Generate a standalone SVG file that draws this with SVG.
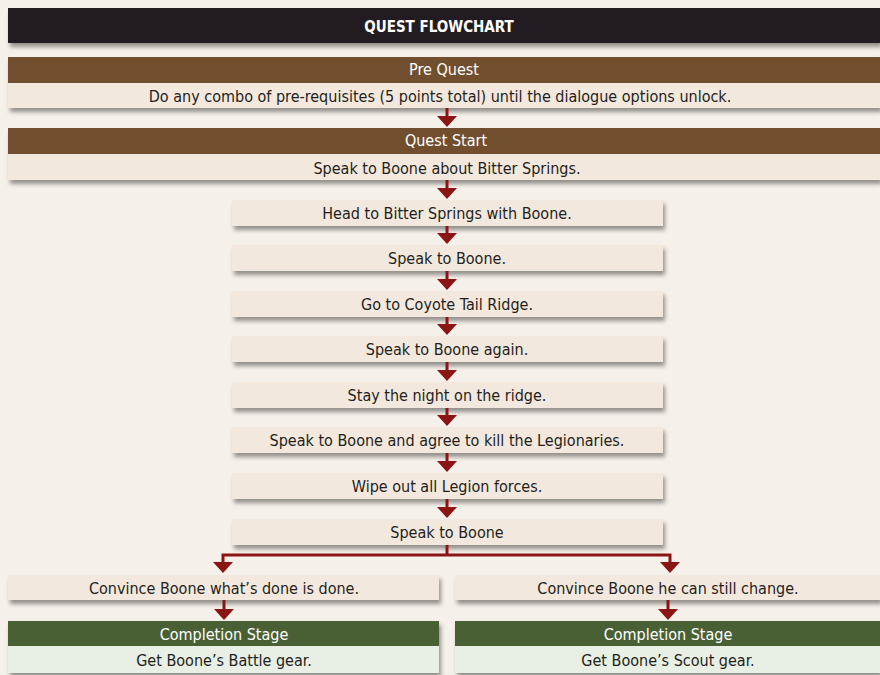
<svg xmlns="http://www.w3.org/2000/svg" width="880" height="675" viewBox="0 0 880 675">
<defs>
<filter id="sh" x="-5%" y="-30%" width="110%" height="180%">
<feDropShadow dx="2" dy="4" stdDeviation="2.2" flood-color="#000" flood-opacity="0.4"/>
</filter>
<style>
.t{font-family:"Liberation Sans Narrow","DejaVu Sans Condensed","Liberation Sans",sans-serif;font-size:16px;fill:#231f20;text-anchor:middle}
.w{fill:#ffffff}
.hd{font-weight:bold;font-size:15px}
.row{fill:#f3e8dd}
.brown{fill:#714f2f}
.green{fill:#4a6136}
.lg{fill:#e8efe4}
.ln{stroke:#8b1515;stroke-width:3;fill:none}
.ah{fill:#8b1515}
</style>
</defs>
<rect x="0" y="0" width="880" height="675" fill="#f6f0ea"/>
<g id="title">
<rect x="8" y="8" width="872" height="35" fill="#231f20" filter="url(#sh)"/>
<text class="t w hd" x="439" y="32">QUEST FLOWCHART</text>
</g>
<g id="prequest">
<g filter="url(#sh)">
<rect x="8" y="57" width="872" height="26" class="brown"/>
<rect x="8" y="83" width="872" height="25" class="row"/>
</g>
<text class="t w" x="444" y="75">Pre Quest</text>
<text class="t" x="440" y="102">Do any combo of pre-requisites (5 points total) until the dialogue options unlock.</text>
</g>
<g id="queststart">
<g filter="url(#sh)">
<rect x="8" y="128" width="872" height="26" class="brown"/>
<rect x="8" y="154" width="872" height="26" class="row"/>
</g>
<text class="t w" x="446" y="146">Quest Start</text>
<text class="t" x="447" y="174">Speak to Boone about Bitter Springs.</text>
</g>
<g id="s1"><rect x="232" y="200" width="431" height="26" class="row" filter="url(#sh)"/><text class="t" x="447" y="219">Head to Bitter Springs with Boone.</text></g>
<g id="s2"><rect x="232" y="245" width="431" height="26" class="row" filter="url(#sh)"/><text class="t" x="447" y="264">Speak to Boone.</text></g>
<g id="s3"><rect x="232" y="291" width="431" height="26" class="row" filter="url(#sh)"/><text class="t" x="447" y="310">Go to Coyote Tail Ridge.</text></g>
<g id="s4"><rect x="232" y="336" width="431" height="26" class="row" filter="url(#sh)"/><text class="t" x="447" y="355">Speak to Boone again.</text></g>
<g id="s5"><rect x="232" y="382" width="431" height="26" class="row" filter="url(#sh)"/><text class="t" x="447" y="401">Stay the night on the ridge.</text></g>
<g id="s6"><rect x="232" y="427" width="431" height="26" class="row" filter="url(#sh)"/><text class="t" x="447" y="446">Speak to Boone and agree to kill the Legionaries.</text></g>
<g id="s7"><rect x="232" y="473" width="431" height="26" class="row" filter="url(#sh)"/><text class="t" x="447" y="492">Wipe out all Legion forces.</text></g>
<g id="s8"><rect x="232" y="519" width="431" height="26" class="row" filter="url(#sh)"/><text class="t" x="447" y="538">Speak to Boone</text></g>
<g id="left">
<rect x="8" y="575" width="431" height="25" class="row" filter="url(#sh)"/>
<text class="t" x="224" y="594">Convince Boone what’s done is done.</text>
</g>
<g id="right">
<rect x="455" y="575" width="425" height="25" class="row" filter="url(#sh)"/>
<text class="t" x="668" y="594">Convince Boone he can still change.</text>
</g>
<g id="leftend">
<g filter="url(#sh)">
<rect x="8" y="621" width="431" height="25" class="green"/>
<rect x="8" y="646" width="431" height="27" class="lg"/>
</g>
<text class="t w" x="224" y="640">Completion Stage</text>
<text class="t" x="224" y="666">Get Boone’s Battle gear.</text>
</g>
<g id="rightend">
<g filter="url(#sh)">
<rect x="455" y="621" width="425" height="25" class="green"/>
<rect x="455" y="646" width="425" height="27" class="lg"/>
</g>
<text class="t w" x="668" y="640">Completion Stage</text>
<text class="t" x="668" y="666">Get Boone’s Scout gear.</text>
</g>
<g id="connectors">
<path class="ln" d="M447 108V117M447 180V189M447 226V234M447 271V280M447 317V325M447 362V371M447 408V416M447 453V462M447 499V508"/>
<path class="ah" d="M437 116H457L447 127ZM437 188H457L447 199ZM437 233H457L447 244ZM437 279H457L447 290ZM437 324H457L447 335ZM437 370H457L447 381ZM437 415H457L447 426ZM437 461H457L447 472ZM437 507H457L447 518Z"/>
<path class="ln" d="M447 545V555M223 563V555H670V563"/>
<path class="ah" d="M213 562H233L223 573ZM660 562H680L670 573Z"/>
<path class="ln" d="M224 600V610M668 600V610"/>
<path class="ah" d="M214 609H234L224 620ZM658 609H678L668 620Z"/>
</g>
</svg>
